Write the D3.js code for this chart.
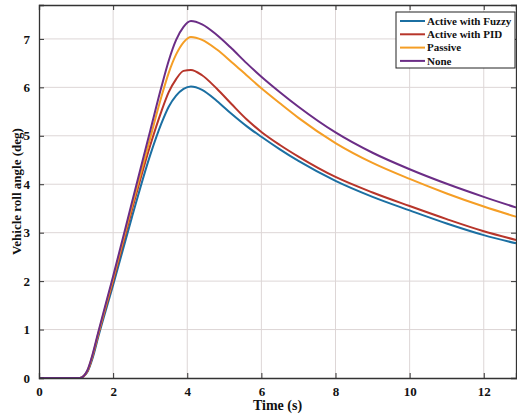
<!DOCTYPE html>
<html>
<head>
<meta charset="utf-8">
<script src="https://cdn.jsdelivr.net/npm/d3@7"></script>
<style>
  body { margin: 0; background: #fff; }
  svg { display: block; }
</style>
</head>
<body>
<svg id="chart" width="517" height="414"></svg>
<script>
// time samples (s)
const time = [0, 1.1, 1.3, 1.45, 1.6, 2.0, 2.5, 3.0, 3.3, 3.5, 3.7, 3.9, 4.1, 4.4, 4.8, 5.2, 5.6, 6, 6.5, 7, 8, 9, 10, 11, 12, 12.87];

const fuzzy   = [0, 0, 0.12, 0.42, 0.85, 1.92, 3.3, 4.6, 5.25, 5.6, 5.83, 5.97, 6.02, 5.95, 5.72, 5.45, 5.2, 4.98, 4.72, 4.48, 4.07, 3.74, 3.46, 3.19, 2.95, 2.78];
const pid     = [0, 0, 0.13, 0.46, 0.9, 2.0, 3.45, 4.8, 5.5, 5.9, 6.17, 6.34, 6.36, 6.25, 5.97, 5.65, 5.34, 5.08, 4.81, 4.57, 4.15, 3.83, 3.55, 3.28, 3.03, 2.85];
const passive = [0, 0, 0.14, 0.48, 0.92, 2.05, 3.52, 4.95, 5.8, 6.3, 6.68, 6.93, 7.04, 6.98, 6.78, 6.52, 6.25, 5.98, 5.67, 5.37, 4.85, 4.44, 4.11, 3.81, 3.54, 3.33];
const none    = [0, 0, 0.15, 0.5, 0.95, 2.1, 3.6, 5.1, 6.0, 6.55, 6.98, 7.25, 7.37, 7.3, 7.08, 6.8, 6.5, 6.22, 5.9, 5.6, 5.07, 4.65, 4.31, 4.01, 3.74, 3.52];

const seriesNames = ["Active with Fuzzy", "Active with PID", "Passive", "None"];
const seriesValues = [fuzzy, pid, passive, none];
const seriesColors = ["#1b6fa2", "#b7352a", "#f59e25", "#6b2d86"];

const xTicks = [0, 2, 4, 6, 8, 10, 12];
const yTicks = [0, 1, 2, 3, 4, 5, 6, 7];

const svg = d3.select("#chart");
const margin = { top: 5, right: 1, bottom: 36, left: 39 };
const width = 517, height = 414;
const font = "'Liberation Serif', 'Times New Roman', serif";

const x = d3.scaleLinear().domain([0, 12.87]).range([margin.left, width - margin.right]);
const y = d3.scaleLinear().domain([0, 7.7]).range([height - margin.bottom, margin.top]);

// grid
svg.append("g")
  .selectAll("line")
  .data(xTicks.slice(1))
  .enter().append("line")
  .attr("x1", d => x(d)).attr("x2", d => x(d))
  .attr("y1", y(0)).attr("y2", y(7.7))
  .attr("stroke", "#ddd6d6").attr("stroke-width", 1);

svg.append("g")
  .selectAll("line")
  .data(yTicks.slice(1))
  .enter().append("line")
  .attr("x1", x(0)).attr("x2", x(12.87))
  .attr("y1", d => y(d)).attr("y2", d => y(d))
  .attr("stroke", "#ddd6d6").attr("stroke-width", 1);

// lines
const line = d3.line()
  .x((d, i) => x(time[i]))
  .y(d => y(d))
  .curve(d3.curveMonotoneX);

svg.append("g")
  .selectAll("path")
  .data(seriesValues)
  .enter().append("path")
  .attr("d", d => line(d))
  .attr("fill", "none")
  .attr("stroke", (d, i) => seriesColors[i])
  .attr("stroke-width", 2);

// axes, ticks pointing inward
const axBottom = svg.append("g")
  .attr("transform", `translate(0,${y(0)})`)
  .call(d3.axisBottom(x).tickValues(xTicks).tickSize(-5).tickPadding(9).tickFormat(d3.format("d")));
const axTop = svg.append("g")
  .attr("transform", `translate(0,${y(7.7)})`)
  .call(d3.axisTop(x).tickValues(xTicks).tickSize(-5).tickFormat(""));
const axLeft = svg.append("g")
  .attr("transform", `translate(${x(0)},0)`)
  .call(d3.axisLeft(y).tickValues(yTicks).tickSize(-5).tickPadding(9).tickFormat(d3.format("d")));
const axRight = svg.append("g")
  .attr("transform", `translate(${x(12.87)},0)`)
  .call(d3.axisRight(y).tickValues(yTicks).tickSize(-5).tickFormat(""));

[axBottom, axTop, axLeft, axRight].forEach(a => {
  a.select(".domain").attr("stroke", "#333").attr("stroke-width", 1.3);
  a.selectAll(".tick line").attr("stroke", "#333");
  a.selectAll("text")
    .style("font-family", font)
    .style("font-weight", "bold")
    .style("font-size", "13px")
    .attr("fill", "#111");
});

// axis titles
svg.append("text")
  .attr("x", (x(0) + x(12.87)) / 2)
  .attr("y", 410)
  .attr("text-anchor", "middle")
  .style("font-family", font).style("font-weight", "bold").style("font-size", "14px")
  .attr("fill", "#111")
  .text("Time (s)");

svg.append("text")
  .attr("transform", `translate(21,${(y(0) + y(7.7)) / 2}) rotate(-90)`)
  .attr("text-anchor", "middle")
  .style("font-family", font).style("font-weight", "bold").style("font-size", "13px")
  .attr("fill", "#111")
  .text("Vehicle roll angle (deg)");

// legend
const lg = svg.append("g").attr("transform", "translate(396,12)");
lg.append("rect")
  .attr("width", 119).attr("height", 56)
  .attr("fill", "#fff").attr("stroke", "#222").attr("stroke-width", 1);

const rows = lg.selectAll("g")
  .data(seriesNames)
  .enter().append("g")
  .attr("transform", (d, i) => `translate(0,${9 + i * 13.3})`);
rows.append("line")
  .attr("x1", 4).attr("x2", 29)
  .attr("stroke", (d, i) => seriesColors[i]).attr("stroke-width", 2);
rows.append("text")
  .attr("x", 31).attr("dy", "0.35em")
  .style("font-family", font).style("font-weight", "bold").style("font-size", "11px")
  .attr("fill", "#111")
  .text(d => d);
</script>
</body>
</html>
